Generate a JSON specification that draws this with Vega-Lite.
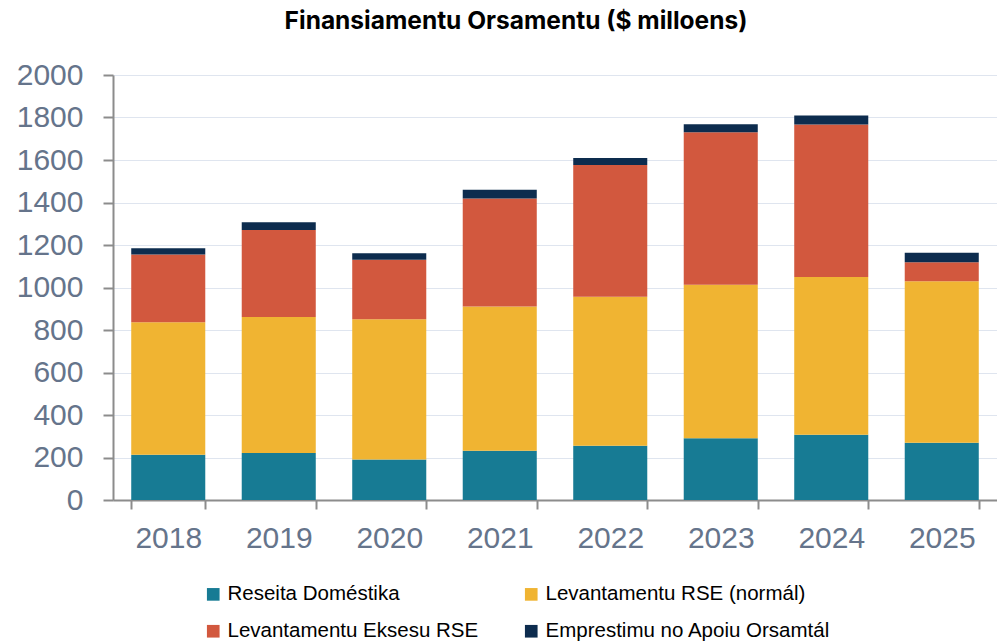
{
  "$schema": "https://vega.github.io/schema/vega-lite/v6.json",
  "autosize": {"type": "none"},
  "padding": {"left": 113, "top": 75, "right": 0, "bottom": 143},
  "width": 884,
  "height": 425,
  "background": "white",
  "title": {
    "text": "Finansiamentu Orsamentu ($ milloens)",
    "font": "Inter",
    "fontSize": 24.5,
    "fontWeight": "bold",
    "color": "#000000",
    "anchor": "middle",
    "dx": -39,
    "offset": 26
  },
  "data": {
    "values": [
      {"ano": "2018", "serie": "Reseita Doméstika", "o": 1, "v": 213},
      {"ano": "2018", "serie": "Levantamentu RSE (normál)", "o": 2, "v": 624},
      {"ano": "2018", "serie": "Levantamentu Eksesu RSE", "o": 3, "v": 318},
      {"ano": "2018", "serie": "Emprestimu no Apoiu Orsamtál", "o": 4, "v": 30},
      {"ano": "2019", "serie": "Reseita Doméstika", "o": 1, "v": 221},
      {"ano": "2019", "serie": "Levantamentu RSE (normál)", "o": 2, "v": 640},
      {"ano": "2019", "serie": "Levantamentu Eksesu RSE", "o": 3, "v": 410},
      {"ano": "2019", "serie": "Emprestimu no Apoiu Orsamtál", "o": 4, "v": 36},
      {"ano": "2020", "serie": "Reseita Doméstika", "o": 1, "v": 191},
      {"ano": "2020", "serie": "Levantamentu RSE (normál)", "o": 2, "v": 660},
      {"ano": "2020", "serie": "Levantamentu Eksesu RSE", "o": 3, "v": 280},
      {"ano": "2020", "serie": "Emprestimu no Apoiu Orsamtál", "o": 4, "v": 30},
      {"ano": "2021", "serie": "Reseita Doméstika", "o": 1, "v": 232},
      {"ano": "2021", "serie": "Levantamentu RSE (normál)", "o": 2, "v": 679},
      {"ano": "2021", "serie": "Levantamentu Eksesu RSE", "o": 3, "v": 508},
      {"ano": "2021", "serie": "Emprestimu no Apoiu Orsamtál", "o": 4, "v": 41},
      {"ano": "2022", "serie": "Reseita Doméstika", "o": 1, "v": 255},
      {"ano": "2022", "serie": "Levantamentu RSE (normál)", "o": 2, "v": 701},
      {"ano": "2022", "serie": "Levantamentu Eksesu RSE", "o": 3, "v": 621},
      {"ano": "2022", "serie": "Emprestimu no Apoiu Orsamtál", "o": 4, "v": 33},
      {"ano": "2023", "serie": "Reseita Doméstika", "o": 1, "v": 291},
      {"ano": "2023", "serie": "Levantamentu RSE (normál)", "o": 2, "v": 722},
      {"ano": "2023", "serie": "Levantamentu Eksesu RSE", "o": 3, "v": 718},
      {"ano": "2023", "serie": "Emprestimu no Apoiu Orsamtál", "o": 4, "v": 37},
      {"ano": "2024", "serie": "Reseita Doméstika", "o": 1, "v": 307},
      {"ano": "2024", "serie": "Levantamentu RSE (normál)", "o": 2, "v": 742},
      {"ano": "2024", "serie": "Levantamentu Eksesu RSE", "o": 3, "v": 718},
      {"ano": "2024", "serie": "Emprestimu no Apoiu Orsamtál", "o": 4, "v": 42},
      {"ano": "2025", "serie": "Reseita Doméstika", "o": 1, "v": 269},
      {"ano": "2025", "serie": "Levantamentu RSE (normál)", "o": 2, "v": 761},
      {"ano": "2025", "serie": "Levantamentu Eksesu RSE", "o": 3, "v": 89},
      {"ano": "2025", "serie": "Emprestimu no Apoiu Orsamtál", "o": 4, "v": 44}
    ]
  },
  "mark": {"type": "bar"},
  "encoding": {
    "x": {
      "field": "ano",
      "type": "nominal",
      "scale": {"paddingInner": 0.33, "paddingOuter": 0.165},
      "axis": {
        "title": null,
        "labelAngle": 0,
        "labelFont": "Liberation Sans",
        "labelFontSize": 30,
        "labelColor": "#65748b",
        "labelPadding": 14,
        "domainColor": "#8c8c8c",
        "domainWidth": 2,
        "tickColor": "#8c8c8c",
        "tickWidth": 2,
        "tickSize": 9,
        "tickBand": "extent",
        "grid": false
      }
    },
    "y": {
      "field": "v",
      "type": "quantitative",
      "stack": "zero",
      "scale": {"domain": [0, 2000], "nice": false},
      "axis": {
        "title": null,
        "values": [0, 200, 400, 600, 800, 1000, 1200, 1400, 1600, 1800, 2000],
        "format": "d",
        "labelFont": "Liberation Sans",
        "labelFontSize": 30,
        "labelColor": "#65748b",
        "labelPadding": 20,
        "domainColor": "#8c8c8c",
        "domainWidth": 2,
        "tickColor": "#8c8c8c",
        "tickWidth": 2,
        "tickSize": 10,
        "grid": true,
        "gridColor": "#dfe5ef",
        "gridWidth": 1
      }
    },
    "color": {
      "field": "serie",
      "type": "nominal",
      "sort": ["Reseita Doméstika", "Levantamentu RSE (normál)", "Levantamentu Eksesu RSE", "Emprestimu no Apoiu Orsamtál"],
      "scale": {
        "domain": ["Reseita Doméstika", "Levantamentu RSE (normál)", "Levantamentu Eksesu RSE", "Emprestimu no Apoiu Orsamtál"],
        "range": ["#177b94", "#f0b432", "#d2583e", "#0d2c4e"]
      },
      "legend": {
        "title": null,
        "orient": "none",
        "legendX": 90,
        "legendY": 509,
        "direction": "horizontal",
        "columns": 2,
        "columnPadding": 42,
        "rowPadding": 16,
        "symbolType": "square",
        "symbolSize": 160,
        "symbolStrokeWidth": 0,
        "symbolOpacity": 1,
        "labelFont": "Liberation Sans",
        "labelFontSize": 20.5,
        "labelColor": "#000000",
        "labelOffset": 4,
        "labelLimit": 400
      }
    },
    "order": {"field": "o", "type": "quantitative", "sort": "ascending"}
  },
  "config": {
    "view": {"stroke": null}
  }
}
